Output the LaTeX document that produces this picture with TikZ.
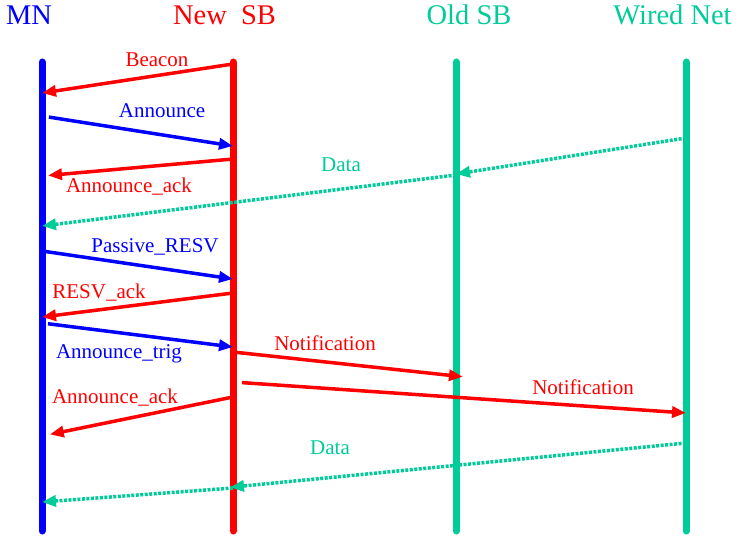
\documentclass[tikz,border=0pt]{standalone}
\usepackage{fontspec}
\setmainfont{Liberation Serif}
\usepackage{tikz}
\usetikzlibrary{arrows.meta, calc}
\definecolor{verde}{RGB}{0,204,153}

\begin{document}
\begin{tikzpicture}[x=1pt, y=-1pt,
    vida/.style={line width=7pt, line cap=round},
    msg/.style={line width=3.5pt, -{Triangle[length=14pt,width=11pt]}},
    dados/.style={verde, line width=3.5pt, dash pattern=on 3pt off 1.5pt, -{Triangle[length=14pt,width=11pt]}},
    titulo/.style={anchor=base, inner sep=0pt, font=\fontsize{28.5}{30}\selectfont},
    rotulo/.style={anchor=base, inner sep=0pt, font=\fontsize{21}{24}\selectfont}]
    \useasboundingbox (0,0) rectangle (738,537);
    % Entidades
    \node[titulo, blue] (mn) at (29,25) {MN};
    \node[titulo, red] (newsb) at (224.5,25) {New\ \ SB};
    \node[titulo, verde] (oldsb) at (469,25) {Old SB};
    \node[titulo, verde] (wired) at (672.5,25) {Wired Net};
    % Linhas de vida
    \foreach \n/\x/\c in {mn/42/blue, newsb/233/red, oldsb/456/verde, wired/686/verde} {
        \coordinate (\n T) at (\x,62);
        \coordinate (\n B) at (\x,531);
        \draw[vida, \c] (\n T) -- (\n B);
    }
    % Mensagens
    \draw[msg, red] (newsbT |- 0,64) -- (mnT |- 0,93);
    \draw[msg, blue, shorten <=7pt] (mnT |- 0,116) -- (newsbT |- 0,146);
    \draw[msg, red, shorten >=6pt] (newsbT |- 0,159) -- (mnT |- 0,176);
    \draw[dados] (wiredT |- 0,138) -- (oldsbT |- 0,174);
    \draw[dados] (oldsbT |- 0,175) -- (mnT |- 0,226);
    \draw[msg, blue, shorten <=2pt] (mnT |- 0,251) -- (newsbT |- 0,279);
    \draw[msg, red] (newsbT |- 0,293) -- (mnT |- 0,317);
    \draw[msg, blue, shorten <=6pt] (mnT |- 0,323) -- (newsbT |- 0,347);
    \draw[msg, red, shorten >=-7pt] (newsbT |- 0,352) -- (oldsbT |- 0,376);
    \draw[msg, red, shorten <=9pt] (newsbT |- 0,382) -- (wiredT |- 0,413);
    \draw[msg, red, shorten >=8pt] (newsbT |- 0,397) -- (mnT |- 0,436);
    \draw[dados, shorten >=-3pt] (wiredT |- 0,443) -- (newsbT |- 0,487);
    \draw[dados] (newsbT |- 0,488) -- (mnT |- 0,502);
    % Rotulos
    \node[rotulo, red] (lbeacon) at (157,67) {Beacon};
    \node[rotulo, blue] (lannounce) at (162,118) {Announce};
    \node[rotulo, red] (lack) at (129,193) {Announce\_ack};
    \node[rotulo, verde] (ldata) at (341,172) {Data};
    \node[rotulo, blue] (lpassive) at (155,252) {Passive\_RESV};
    \node[rotulo, red] (lresv) at (99,298) {RESV\_ack};
    \node[rotulo, blue] (ltrig) at (119,358) {Announce\_trig};
    \node[rotulo, red] (lnotif) at (325,350) {Notification};
    \node[rotulo, red] (lnotifw) at (583,394) {Notification};
    \node[rotulo, red] (lackb) at (115,403) {Announce\_ack};
    \node[rotulo, verde] (ldatab) at (330,454) {Data};
\end{tikzpicture}
\end{document}
